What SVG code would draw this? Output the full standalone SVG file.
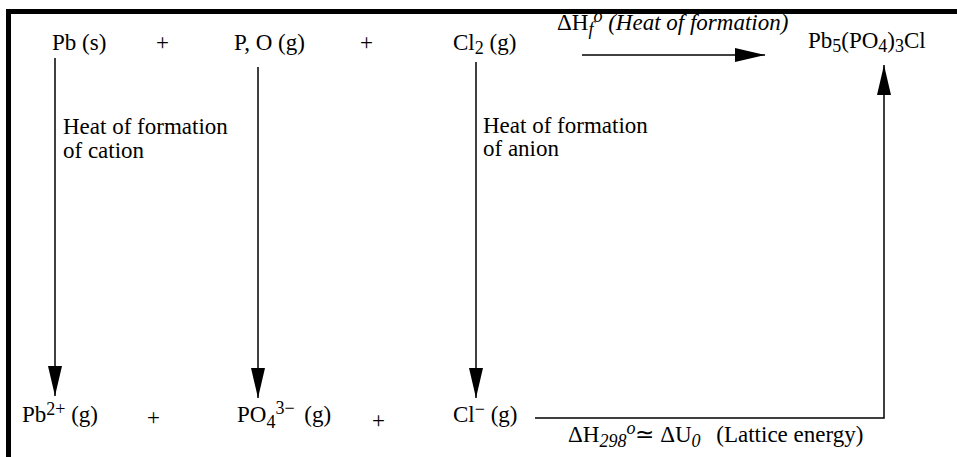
<svg xmlns="http://www.w3.org/2000/svg" width="957" height="457" viewBox="0 0 957 457">
<style>
text{font-family:"Liberation Serif","Times New Roman",serif;font-size:23px;fill:#000}
.sm{font-size:18px}
.it{font-style:italic}
.ln{stroke:#000;stroke-width:1.5;fill:none}
</style>
<defs>
<marker id="ah" markerUnits="userSpaceOnUse" markerWidth="30" markerHeight="14" refX="30" refY="7" orient="auto">
<path d="M0,0 L30,7 L0,14 Z" fill="#000"/>
</marker>
</defs>
<rect width="957" height="457" fill="#fff"/>
<g id="frame">
<rect x="6" y="9" width="951" height="5" fill="#000"/>
<rect x="6" y="9" width="5" height="448" fill="#000"/>
</g>
<g id="connectors">
<line class="ln" x1="55" y1="58" x2="55" y2="396" marker-end="url(#ah)"/>
<line class="ln" x1="258" y1="67" x2="258" y2="398" marker-end="url(#ah)"/>
<line class="ln" x1="476" y1="62" x2="476" y2="398" marker-end="url(#ah)"/>
<line class="ln" x1="582" y1="55" x2="765" y2="55" marker-end="url(#ah)"/>
<polyline class="ln" points="535,418 884,418 884,65" marker-end="url(#ah)"/>
</g>
<g id="pb-s"><text x="52" y="50">Pb (s)</text></g>
<g id="plus1"><text x="156" y="50">+</text></g>
<g id="po-g"><text x="234" y="50">P, O (g)</text></g>
<g id="plus2"><text x="360" y="50">+</text></g>
<g id="cl2-g"><text x="453" y="50">Cl<tspan class="sm" dy="4">2</tspan><tspan dy="-4"> (g)</tspan></text></g>
<g id="label-hf"><text x="557" y="30">ΔH<tspan class="sm it" dy="5">f</tspan><tspan class="sm it" dy="-13">o</tspan><tspan class="it" dy="8"> (Heat of formation)</tspan></text></g>
<g id="product"><text x="808" y="48">Pb<tspan class="sm" dy="4">5</tspan><tspan dy="-4">(PO</tspan><tspan class="sm" dy="4">4</tspan><tspan dy="-4">)</tspan><tspan class="sm" dy="4">3</tspan><tspan dy="-4">Cl</tspan></text></g>
<g id="label-cation"><text x="63" y="134">Heat of formation</text><text x="63" y="158">of cation</text></g>
<g id="label-anion"><text x="483" y="133">Heat of formation</text><text x="483" y="156">of anion</text></g>
<g id="pb2"><text x="22" y="422">Pb<tspan class="sm" dy="-7">2+</tspan><tspan dy="7"> (g)</tspan></text></g>
<g id="plus3"><text x="147" y="425">+</text></g>
<g id="po4"><text x="237" y="422">PO<tspan class="sm" dy="6">4</tspan><tspan class="sm" dy="-14">3−</tspan><tspan dy="8" dx="4"> (g)</tspan></text></g>
<g id="plus4"><text x="372" y="428">+</text></g>
<g id="cl-g"><text x="453" y="422">Cl<tspan class="sm" dy="-7">−</tspan><tspan dy="7"> (g)</tspan></text></g>
<g id="label-lattice"><text x="568" y="442">ΔH<tspan class="sm it" dy="5">298</tspan><tspan class="sm it" dy="-13">o</tspan><tspan dy="8">≃ ΔU</tspan><tspan class="sm it" dy="5">0</tspan><tspan dy="-5" dx="10"> (Lattice energy)</tspan></text></g>
</svg>
